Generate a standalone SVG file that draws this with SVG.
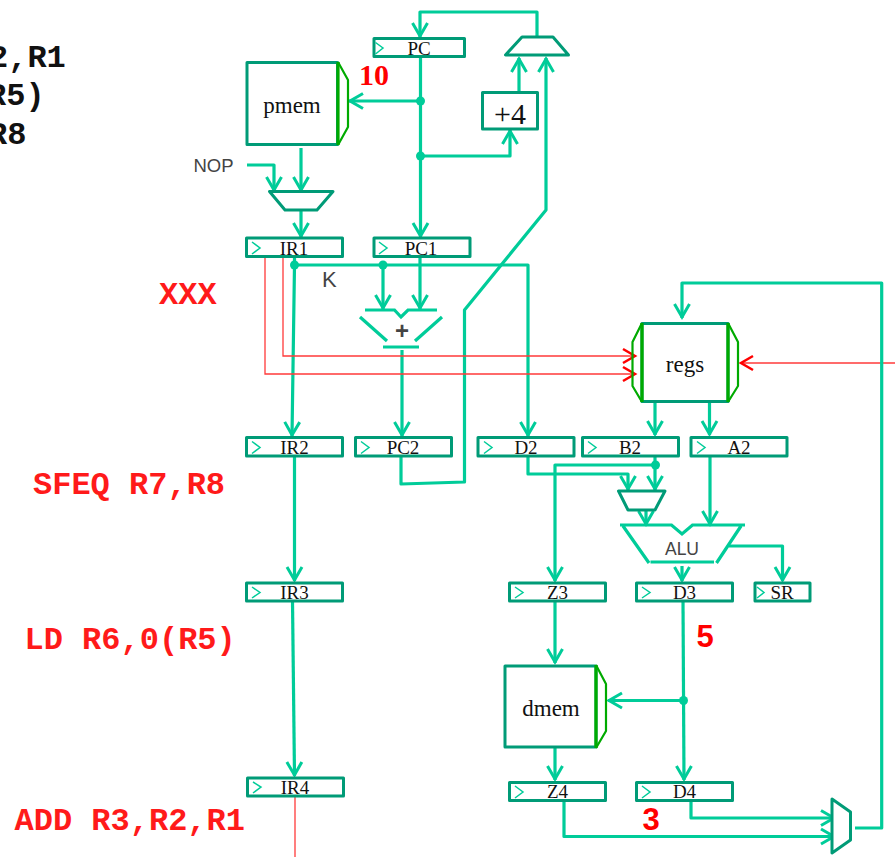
<svg xmlns="http://www.w3.org/2000/svg" width="895" height="857" viewBox="0 0 895 857">
<style>
.c{fill:none;stroke:#00cc99;stroke-width:3.200;stroke-linejoin:round}
.a{marker-end:url(#ag)}
.r{fill:none;stroke:#ff3a3a;stroke-width:1.300;marker-end:url(#ar)}
.r0{fill:none;stroke:#ff3a3a;stroke-width:1.300}
.b{fill:#fff;stroke:#009b77;stroke-width:3;stroke-linejoin:round}
.m{fill:#fff;stroke:#009b77;stroke-width:3;stroke-linejoin:round}
.s{fill:none;stroke:#00cc99;stroke-width:3.200}
.g{fill:none;stroke:#00aa00;stroke-width:2.200;stroke-linejoin:round}
.gt{fill:none;stroke:#00aa00;stroke-width:3.200}
.k{fill:none;stroke:#00cc99;stroke-width:1.500}
.d{fill:#00cc99}
.t{font-family:"Liberation Serif",serif;font-size:19px;fill:#111;text-anchor:middle}
.l{font-family:"Liberation Serif",serif;font-size:23px;fill:#111;text-anchor:middle}
.n{font-family:"Liberation Sans",sans-serif;fill:#444}
.p{font-family:"Liberation Mono",monospace;font-weight:bold;font-size:32px}
.v{font-family:"Liberation Sans",sans-serif;font-weight:bold;font-size:31px;fill:#ff0000}
</style>
<defs>
<marker id="ag" markerUnits="userSpaceOnUse" markerWidth="24" markerHeight="24" refX="19" refY="12" orient="auto"><path d="M5,4.500L18,12L5,19.500" fill="none" stroke="#00cc99" stroke-width="3"/></marker>
<marker id="ar" markerUnits="userSpaceOnUse" markerWidth="24" markerHeight="24" refX="19" refY="12" orient="auto"><path d="M6,5L18,12L6,19" fill="none" stroke="#ff0000" stroke-width="2.500"/></marker>
</defs>

<g id="connectors">
<path class="c a" d="M537,37V12H420V37"/>
<path class="c a" d="M420.500,57V237"/>
<path class="c a" d="M420.500,101H349"/>
<path class="c a" d="M420.500,156H510V130"/>
<path class="c a" d="M519,92V58"/>
<path class="c a" d="M401,457V484L464.500,482V310L546,210V58"/>
<path class="c a" d="M301,148V191"/>
<path class="c a" d="M247,165H274V191"/>
<path class="c a" d="M301,210V237"/>
<path class="c a" d="M294.500,265H528V436"/>
<path class="c a" d="M294.500,257V265L292,436"/>
<path class="c a" d="M383,265V309"/>
<path class="c a" d="M420,257V309"/>
<path class="c a" d="M402,350V436"/>
<path class="c a" d="M294.500,456V581"/>
<path class="c a" d="M292.500,601L294.500,776"/>
<path class="r0" d="M295,796V857"/>
<path class="r" d="M265,257V374H636"/>
<path class="r" d="M283,257V356H636"/>
<path class="r" d="M895,363H740"/>
<path class="c a" d="M855,828H881.700V283H682V318"/>
<path class="c a" d="M655,403V435"/>
<path class="c a" d="M709.500,403V435"/>
<path class="c a" d="M528,456V474H628V490"/>
<path class="c a" d="M655,456V490"/>
<path class="c a" d="M655,465H555V581"/>
<path class="c a" d="M646,510V525"/>
<path class="c a" d="M710,456V525"/>
<path class="c a" d="M682,566V581"/>
<path class="c a" d="M729,546H782.500V581"/>
<path class="c a" d="M683,601L684,780"/>
<path class="c a" d="M683.500,700.500H608"/>
<path class="c a" d="M555,601V663"/>
<path class="c a" d="M555,748V780"/>
<path class="c a" d="M564,801V836.500H835"/>
<path class="c a" d="M691,801V818H835"/>
<circle class="d" cx="420.500" cy="101" r="4.500"/>
<circle class="d" cx="420.500" cy="156" r="4.500"/>
<circle class="d" cx="294.500" cy="265" r="4.500"/>
<circle class="d" cx="383" cy="265" r="4.500"/>
<circle class="d" cx="655.500" cy="465" r="4.500"/>
<circle class="d" cx="683.500" cy="700.500" r="4.500"/>
</g>

<g id="PC"><rect class="b" x="374" y="38.500" width="90.500" height="18"/><path class="k" d="M375.500,42.500L383,48L375.500,54"/><text class="t" x="419" y="55">PC</text></g>
<g id="pmem"><rect class="b" x="247" y="62.500" width="90.500" height="82"/><path class="g" d="M338,62L348,80V127L338,145"/><path class="gt" d="M338,62V145"/><text class="l" x="292" y="113">pmem</text></g>
<g id="mux-pc"><path class="m" d="M505.500,55H568.500L553,37H522Z"/></g>
<g id="plus4"><rect class="b" x="482.500" y="92.500" width="55" height="36.500"/><text class="l" style="font-size:30px" x="510" y="124">+4</text></g>
<g id="mux-ir"><path class="m" d="M269.500,191.500H333L317,210H285Z"/></g>
<g id="IR1"><rect class="b" x="246.500" y="238" width="96" height="18.500"/><path class="k" d="M252,242L260,248L252,254"/><text class="t" x="294" y="255">IR1</text></g>
<g id="PC1"><rect class="b" x="374" y="238" width="96" height="18.500"/><path class="k" d="M379,242L387,248L379,254"/><text class="t" x="421" y="255">PC1</text></g>
<g id="adder"><path class="s" d="M365,310H394.500L401,317L408,310H437M360,317L387,341M442,317L415,341M383,347H419"/><text class="n" style="font-weight:bold;font-size:24px" x="402" y="339" text-anchor="middle">+</text></g>
<g id="K"><text class="n" style="font-size:22px" x="322" y="287">K</text></g>
<g id="regs"><rect class="b" x="642" y="323.500" width="86" height="78"/><path class="g" d="M642,323L632.500,342V386L642,402M728,323L738,342V386L728,402"/><path class="gt" d="M642,323V402M728,323V402"/><text class="l" x="685" y="372">regs</text></g>
<g id="IR2"><rect class="b" x="246.500" y="437.500" width="96" height="18.500"/><path class="k" d="M252,441.500L260,447.500L252,453.500"/><text class="t" x="294.500" y="454">IR2</text></g>
<g id="PC2"><rect class="b" x="355.500" y="437.500" width="96" height="18.500"/><path class="k" d="M361,441.500L369,447.500L361,453.500"/><text class="t" x="403" y="454">PC2</text></g>
<g id="D2"><rect class="b" x="478" y="437.500" width="96" height="18.500"/><path class="k" d="M484,441.500L492,447.500L484,453.500"/><text class="t" x="526" y="454">D2</text></g>
<g id="B2"><rect class="b" x="582.500" y="437.500" width="96" height="18.500"/><path class="k" d="M588,441.500L596,447.500L588,453.500"/><text class="t" x="630" y="454">B2</text></g>
<g id="A2"><rect class="b" x="691" y="437.500" width="96" height="18.500"/><path class="k" d="M697,441.500L705,447.500L697,453.500"/><text class="t" x="739" y="454">A2</text></g>
<g id="mux-alu"><path class="m" d="M618.500,491H665L655,510H628Z"/></g>
<g id="ALU"><path class="s" d="M620,525H671.500L682,534L692.500,525H745M623,526L649,563M741,526L716.500,563M650.500,562H714"/><text class="n" style="font-size:17.500px" x="682" y="555" text-anchor="middle">ALU</text></g>
<g id="IR3"><rect class="b" x="246.500" y="583" width="96" height="18"/><path class="k" d="M252,587L260,592.500L252,598"/><text class="t" x="294.500" y="599">IR3</text></g>
<g id="Z3"><rect class="b" x="509.500" y="583" width="96" height="18"/><path class="k" d="M515,587L523,592.500L515,598"/><text class="t" x="557.500" y="599">Z3</text></g>
<g id="D3"><rect class="b" x="636.500" y="583" width="96" height="18"/><path class="k" d="M642,587L650,592.500L642,598"/><text class="t" x="684.500" y="599">D3</text></g>
<g id="SR"><rect class="b" x="755" y="583" width="55" height="18"/><path class="k" d="M757,587L764,592.500L757,598"/><text class="t" x="782" y="599">SR</text></g>
<g id="dmem"><rect class="b" x="505" y="666" width="91" height="81"/><path class="g" d="M596,665L606,684V731L596,748"/><path class="gt" d="M596,665V748"/><text class="l" x="551" y="716">dmem</text></g>
<g id="IR4"><rect class="b" x="247.500" y="778" width="96" height="18"/><path class="k" d="M253,782L261,787L253,793"/><text class="t" x="295" y="794">IR4</text></g>
<g id="Z4"><rect class="b" x="509.500" y="782.500" width="96" height="18"/><path class="k" d="M515,786L523,792L515,798"/><text class="t" x="557.500" y="798">Z4</text></g>
<g id="D4"><rect class="b" x="636.500" y="782.500" width="96" height="18"/><path class="k" d="M642,786L650,792L642,798"/><text class="t" x="684.500" y="798">D4</text></g>
<g id="mux-wb"><path class="m" d="M832,799L850.500,812V840L832,853Z"/></g>

<g id="annotations">
<text class="p" fill="#111" x="-11" y="67">2,R1</text>
<text class="p" fill="#111" x="-13" y="105">R5)</text>
<text class="p" fill="#111" x="-12" y="144">R8</text>
<text class="p" fill="#ff1a1a" x="159" y="304">XXX</text>
<text class="p" fill="#ff1a1a" x="33" y="494">SFEQ R7,R8</text>
<text class="p" fill="#ff1a1a" x="24.500" y="649">LD R6,0(R5)</text>
<text class="p" fill="#ff1a1a" x="14.500" y="830">ADD R3,R2,R1</text>
<text x="359" y="85" style="font-family:'Liberation Serif',serif;font-weight:bold;font-size:30px;fill:#ff0000">10</text>
<text class="v" x="696.500" y="647">5</text>
<text class="v" x="642.500" y="830">3</text>
<text class="n" style="font-size:18.500px" x="193.500" y="172">NOP</text>
</g>
</svg>
